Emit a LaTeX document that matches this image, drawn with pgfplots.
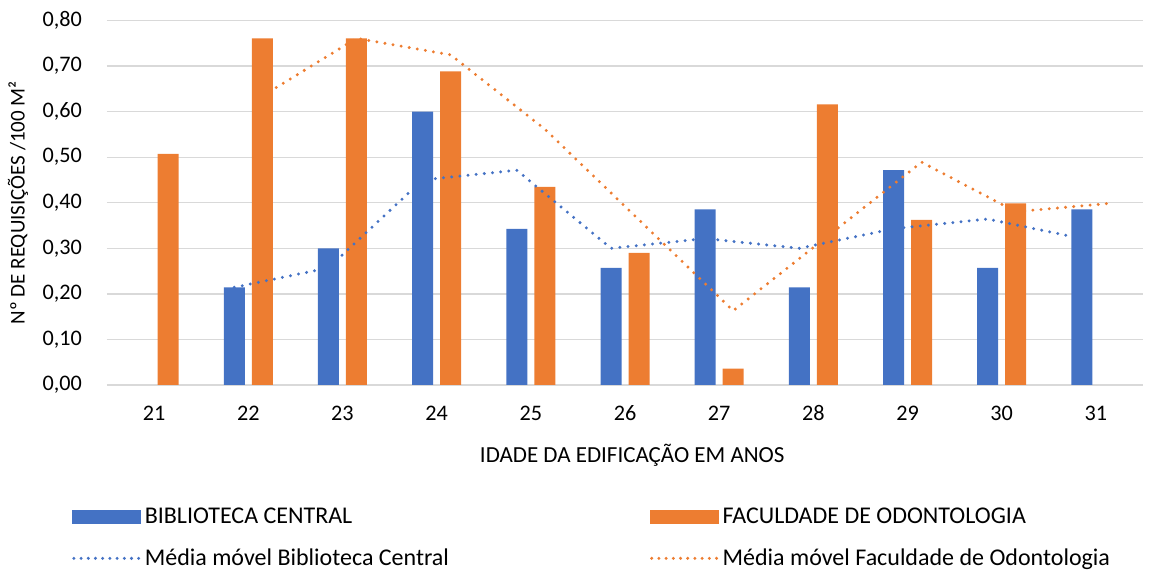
\documentclass[border=0pt]{standalone}
\usepackage{pgfplots}
\pgfplotsset{compat=1.18}
\usepackage{fontspec}
\setmainfont{Carlito}
\definecolor{cblue}{HTML}{4472C4}
\definecolor{corange}{HTML}{ED7D31}
\definecolor{cgrid}{HTML}{D9D9D9}
\begin{document}
\begin{tikzpicture}
\useasboundingbox (0,0) rectangle (1152pt,572pt);
\begin{axis}[
  at={(107pt,187pt)}, anchor=south west,
  width=1036pt, height=364.5pt, scale only axis,
  xmin=20.5, xmax=31.5, ymin=0, ymax=0.8,
  xtick={21,...,31}, ytick={0,0.1,...,0.8},
  axis line style={draw=none},
  major tick length=0pt,
  ymajorgrids, grid style={cgrid, line width=1.3pt},
  /pgf/number format/assume math mode=true,
  yticklabel style={/pgf/number format/.cd, fixed, fixed zerofill, precision=2, use comma, /tikz/.cd,
     anchor=east, inner sep=0pt, xshift=-25pt, font=\fontsize{22.2}{26}\selectfont},
  xticklabel style={anchor=center, inner sep=0pt, yshift=-28pt, font=\fontsize{22.2}{26}\selectfont},
  every axis y label/.style={at={(axis description cs:-0.086,0.5)}, rotate=90, anchor=center, font=\fontsize{21}{25}\selectfont},
  every axis x label/.style={at={(axis description cs:0.507,-0.192)}, anchor=center, font=\fontsize{23}{27}\selectfont},
  xlabel={IDADE DA EDIFICAÇÃO EM ANOS},
  ylabel={Nº DE REQUISIÇÕES /100 M²},
  legend columns=2,
  legend cell align=left,
  legend style={draw=none, fill=none, inner sep=0pt, at={(axis description cs:-0.0338,-0.332)}, anchor=north west,
     font=\fontsize{24}{28}\selectfont,
     /tikz/every even column/.append style={column sep=199pt},
     row sep=20pt},
]
\addplot[ybar, bar width=21pt, bar shift=-14pt, fill=cblue, draw=none,
  legend image code/.code={\fill[cblue] (0pt,-7pt) rectangle (69pt,7pt);}]
 coordinates {(22,0.2143) (23,0.3000) (24,0.6000) (25,0.3429) (26,0.2571) (27,0.3857) (28,0.2143) (29,0.4714) (30,0.2571) (31,0.3857)};
\addlegendentry{BIBLIOTECA CENTRAL}
\addplot[ybar, bar width=21pt, bar shift=14pt, fill=corange, draw=none,
  legend image code/.code={\fill[corange] (0pt,-7pt) rectangle (69pt,7pt);}]
 coordinates {(21,0.5072) (22,0.7609) (23,0.7609) (24,0.6884) (25,0.4348) (26,0.2899) (27,0.0362) (28,0.6159) (29,0.3623) (30,0.3986)};
\addlegendentry{FACULDADE DE ODONTOLOGIA}
\addplot[cblue, line width=3.3pt, line cap=round, dash pattern=on 0pt off 8.2pt, no marks,
  legend image code/.code={\draw[cblue, line width=3.3pt, line cap=round, dash pattern=on 0pt off 7.2pt] (1.7pt,0pt) -- (69pt,0pt);}]
 coordinates {(21.851,0.2143) (22.851,0.2571) (23.851,0.4500) (24.851,0.4714) (25.851,0.3000) (26.851,0.3214) (27.851,0.3000) (28.851,0.3429) (29.851,0.3643) (30.851,0.3214)};
\addlegendentry{Média móvel Biblioteca Central}
\addplot[corange, line width=3.3pt, line cap=round, dash pattern=on 0pt off 8.2pt, no marks,
  legend image code/.code={\draw[corange, line width=3.3pt, line cap=round, dash pattern=on 0pt off 7.2pt] (1.7pt,0pt) -- (69pt,0pt);}]
 coordinates {(22.149,0.6341) (23.149,0.7609) (24.149,0.7246) (25.149,0.5616) (26.149,0.3623) (27.149,0.1630) (28.149,0.3261) (29.149,0.4891) (30.149,0.3804) (31.149,0.3986)};
\addlegendentry{Média móvel Faculdade de Odontologia}
\end{axis}
\end{tikzpicture}
\end{document}
